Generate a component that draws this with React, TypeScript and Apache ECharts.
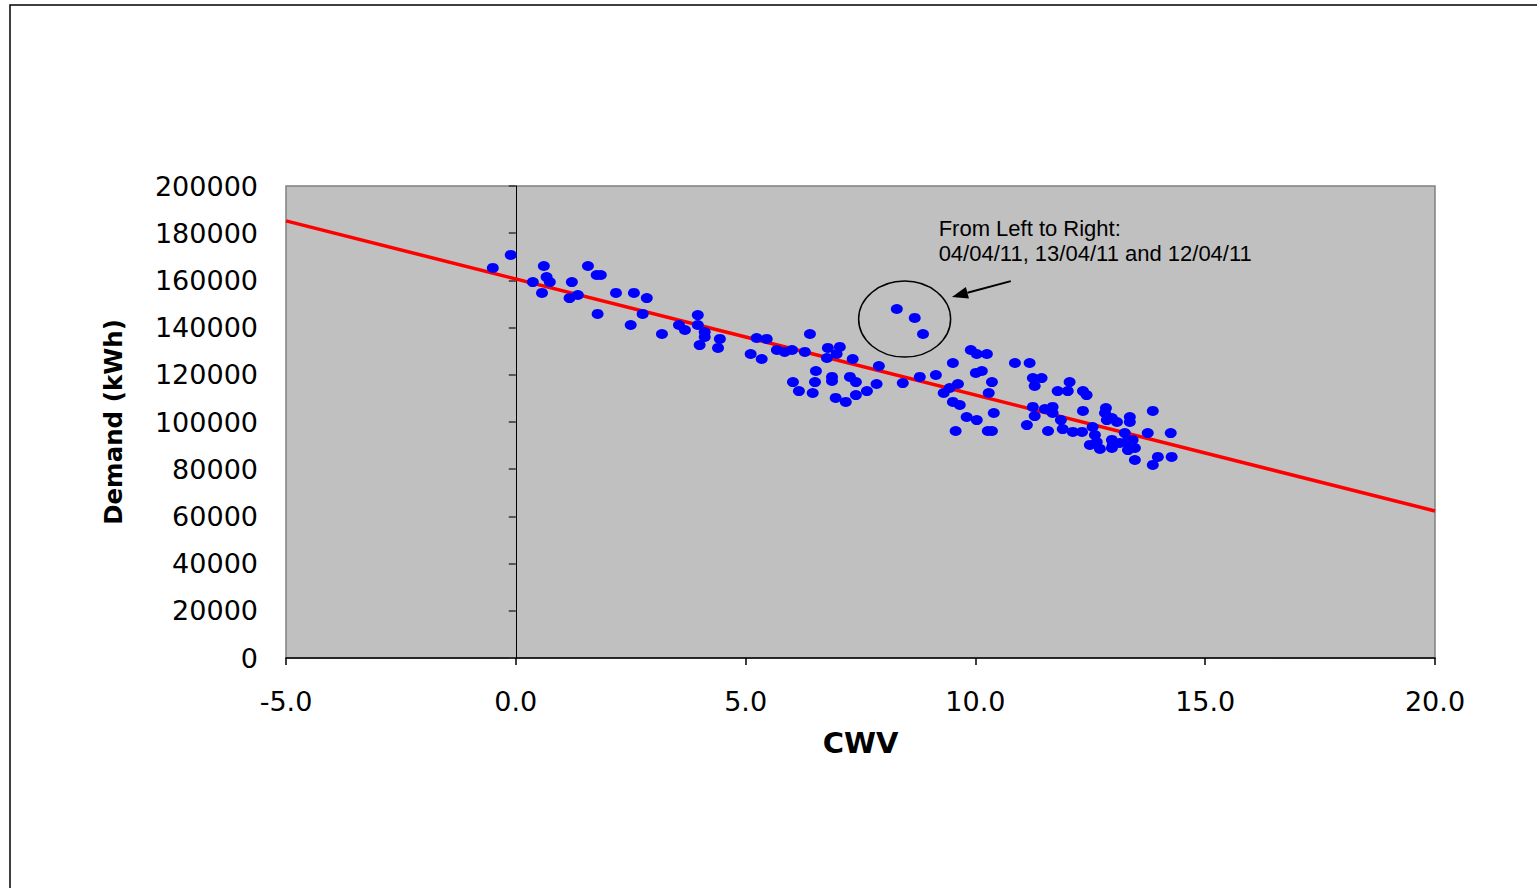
import React, { useEffect, useRef } from "react";
import * as echarts from "echarts";

const xTicks = { min: -5, max: 20, interval: 5 };
const yTicks = { min: 0, max: 200000, interval: 20000 };

const cwv: number[] = [
  -0.5, -0.11, 0.37, 0.61, 0.67, 0.74, 0.57, 1.22, 1.17, 1.35, 1.57, 1.76, 1.85, 1.78, 2.18, 2.57, 2.85, 2.76, 2.5, 3.18,
  3.55, 3.68, 3.96, 3.96, 4.11, 4.11, 4.0, 4.44, 4.4, 5.11, 5.24, 5.46, 5.35, 6.4, 5.68, 5.85, 6.01, 6.29, 6.79, 7.05,
  6.77, 6.98, 7.33, 7.9, 6.53, 6.03, 6.51, 6.16, 6.46, 6.88, 6.88, 7.27, 7.4, 7.64, 7.85, 7.4, 6.96, 7.18, 8.42, 8.79,
  9.14, 9.51, 9.31, 9.62, 9.51, 9.66, 9.9, 10.03, 10.25, 10.01, 10.14, 10.36, 10.29, 10.4, 9.81, 10.03, 8.29, 8.68, 8.86, 10.86,
  11.18, 11.25, 11.44, 11.29, 9.44, 12.05, 12.01, 11.79, 12.34, 12.42, 11.25, 11.51, 11.68, 11.29, 11.68, 12.34, 11.86, 12.84, 12.82, 12.97,
  13.08, 13.36, 13.36, 13.86, 11.12, 11.58, 11.9, 12.12, 12.32, 12.55, 12.6, 12.64, 12.49, 12.71, 12.97, 12.97, 13.14, 13.25, 13.29, 13.32,
  13.42, 13.47, 13.47, 13.75, 14.25, 13.97, 14.27, 13.86, 9.57, 10.27, 10.36, 12.86, 12.99,
];

const demand: number[] = [
  165300, 170800, 159300, 166100, 161400, 159300, 154700, 159300, 152500, 153800, 166100, 162300, 162300, 145800, 154700, 154700, 152500, 145800, 141100, 137300,
  141100, 139000, 145300, 141100, 138100, 136000, 132600, 135200, 131400, 128800, 135600, 135200, 126700, 137300, 130500, 129700, 130500, 129700, 131400, 131800,
  127100, 128800, 126700, 123700, 121600, 116900, 116900, 113100, 112300, 117400, 119100, 119100, 116900, 113100, 116100, 111400, 110200, 108500, 116500, 119100,
  119900, 125000, 112300, 116100, 108500, 107200, 130500, 128800, 128800, 120800, 121600, 116900, 112300, 103800, 102100, 100800, 147900, 144100, 137300, 125000,
  125000, 118600, 118600, 115300, 114400, 116900, 113100, 113100, 113100, 111400, 106400, 105500, 106400, 102500, 103800, 104700, 100800, 105900, 103800, 101700,
  100000, 102100, 100000, 104700, 98700, 96200, 97000, 95800, 95800, 97900, 94500, 91500, 90300, 88600, 92400, 89000, 91100, 95300, 91500, 88100,
  92400, 89000, 83900, 95300, 95300, 85200, 85200, 81800, 96200, 96200, 96200, 100800, 90300,
];

const trendX: number[] = [-5, 20];
const trendY: number[] = [185200, 62300];

const noteLines: string[] = ["From Left to Right:", "04/04/11, 13/04/11 and 12/04/11"];

export default function App() {
  const ref = useRef<HTMLDivElement>(null);

  useEffect(() => {
    if (!ref.current) return;
    const chart = echarts.init(ref.current, null, { renderer: "svg" });
    const points = cwv.map((x, i) => [x, demand[i]]);
    const trend = trendX.map((x, i) => [x, trendY[i]]);
    const labelFont = "DejaVu Sans";

    chart.setOption({
      animation: false,
      backgroundColor: "#ffffff",
      grid: {
        left: 286,
        top: 186,
        right: 102,
        bottom: 230,
        show: true,
        backgroundColor: "#C0C0C0",
        borderColor: "#808080",
        borderWidth: 1.5,
      },
      xAxis: {
        type: "value",
        min: xTicks.min,
        max: xTicks.max,
        interval: xTicks.interval,
        name: "CWV",
        nameLocation: "middle",
        nameGap: 70,
        nameTextStyle: {
          fontFamily: labelFont,
          fontWeight: "bold",
          fontSize: 29,
          color: "#000",
        },
        axisLine: { show: true, onZero: false, lineStyle: { color: "#000", width: 1.5 } },
        axisTick: { show: true, length: 7, inside: false, lineStyle: { color: "#000", width: 1.5 } },
        axisLabel: {
          margin: 30,
          fontFamily: labelFont,
          fontSize: 27,
          color: "#000",
          formatter: (v: number) => v.toFixed(1),
        },
        splitLine: { show: false },
      },
      yAxis: [
        {
          type: "value",
          min: yTicks.min,
          max: yTicks.max,
          interval: yTicks.interval,
          name: "Demand (kWh)",
          nameLocation: "middle",
          nameGap: 160,
          nameTextStyle: {
            fontFamily: labelFont,
            fontWeight: "bold",
            fontSize: 24.5,
            color: "#000",
          },
          axisLine: { show: false, onZero: false },
          axisTick: { show: false },
          axisLabel: {
            margin: 28,
            fontFamily: labelFont,
            fontSize: 27,
            color: "#000",
            formatter: (v: number) => String(Math.round(v)),
          },
          splitLine: { show: false },
        },
        {
          type: "value",
          min: yTicks.min,
          max: yTicks.max,
          interval: yTicks.interval,
          position: "left",
          axisLine: { show: true, onZero: true, lineStyle: { color: "#000", width: 1 } },
          axisTick: { show: true, length: 7, inside: false, lineStyle: { color: "#333", width: 1.5 } },
          axisLabel: { show: false },
          splitLine: { show: false },
        },
      ],
      series: [
        {
          type: "line",
          data: trend,
          symbol: "none",
          lineStyle: { color: "#FF0000", width: 3.5 },
          z: 2,
        },
        {
          type: "scatter",
          data: points,
          symbol: "circle",
          symbolSize: [12, 10],
          itemStyle: { color: "#0000FF", opacity: 1 },
          z: 3,
        },
      ],
    });

    const px = (x: number, y: number) => chart.convertToPixel({ gridIndex: 0 }, [x, y]) as number[];
    const c = px(8.46, 143600);
    const a0 = px(10.77, 159700);
    const a1 = px(9.49, 153000);
    const dx = a1[0] - a0[0];
    const dy = a1[1] - a0[1];
    const len = Math.sqrt(dx * dx + dy * dy);
    const ux = dx / len;
    const uy = dy / len;
    const headL = 16;
    const headW = 6;
    const base = [a1[0] - ux * headL, a1[1] - uy * headL];
    const t0 = px(9.2, 187100);

    chart.setOption({
      graphic: [
        {
          type: "rect",
          silent: true,
          shape: { x: 10, y: 5, width: 1700, height: 1000 },
          style: { fill: "none", stroke: "#000", lineWidth: 1.5 },
          z: 0,
        },
        {
          type: "ellipse",
          silent: true,
          shape: { cx: c[0], cy: c[1], rx: 46, ry: 38 },
          style: { fill: "none", stroke: "#000", lineWidth: 1.5 },
          z: 10,
        },
        {
          type: "line",
          silent: true,
          shape: { x1: a0[0], y1: a0[1], x2: base[0], y2: base[1] },
          style: { stroke: "#000", lineWidth: 2 },
          z: 10,
        },
        {
          type: "polygon",
          silent: true,
          shape: {
            points: [
              [a1[0], a1[1]],
              [base[0] - uy * headW, base[1] + ux * headW],
              [base[0] + uy * headW, base[1] - ux * headW],
            ],
          },
          style: { fill: "#000" },
          z: 10,
        },
        {
          type: "text",
          silent: true,
          x: t0[0],
          y: t0[1],
          style: {
            text: noteLines.join("\n"),
            fontFamily: "Liberation Sans",
            fontSize: 22,
            lineHeight: 25,
            fill: "#000",
            textAlign: "left",
            textVerticalAlign: "top",
          },
          z: 10,
        },
      ],
    });

    return () => chart.dispose();
  }, []);

  return (
    <div
      ref={ref}
      style={{ position: "absolute", left: 0, top: 0, width: 1537, height: 888 }}
    />
  );
}
